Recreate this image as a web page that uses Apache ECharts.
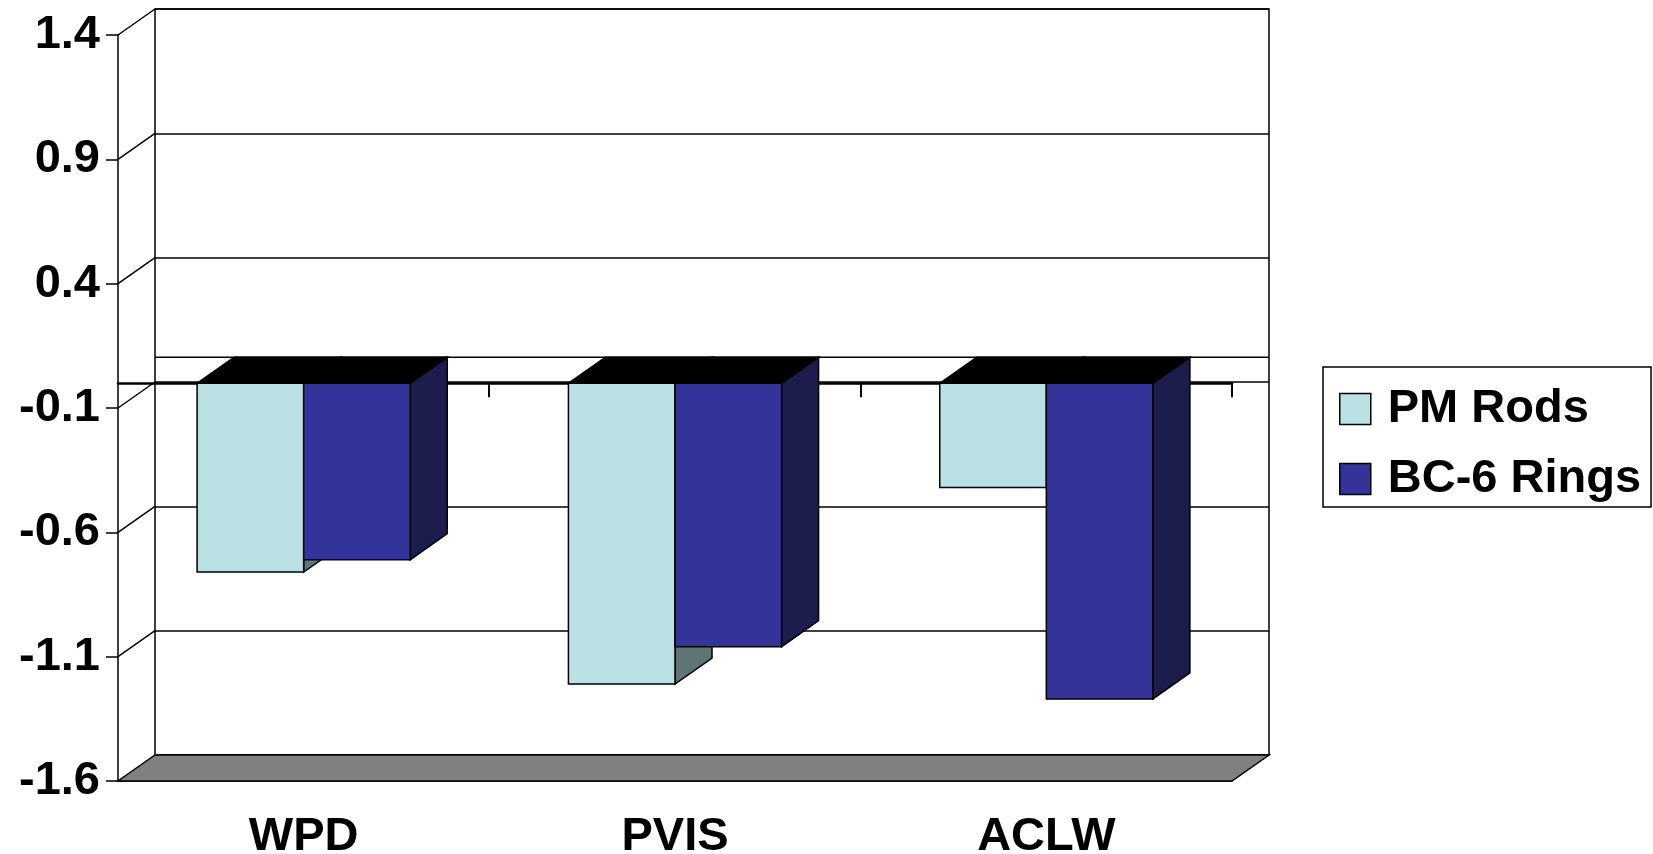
<!DOCTYPE html>
<html>
	<head>
		<meta charset="utf-8">
		<title>PM Rods vs BC-6 Rings</title>
		<style>
			html, body { margin: 0; padding: 0; background: #fff; }
			#main { width: 1653px; height: 854px; }
		</style>
	</head>
	<body>
		<div id="main"></div>

		<script src="https://cdn.jsdelivr.net/npm/echarts@6/dist/echarts.min.js"></script>
		<script type="text/javascript">
			// data
			var categories = ['WPD', 'PVIS', 'ACLW'];
			var pmRods = [-0.76, -1.21, -0.42];
			var bc6Rings = [-0.71, -1.06, -1.27];
			var yTicks = [-1.6, -1.1, -0.6, -0.1, 0.4, 0.9, 1.4];

			// layout of the fake 3d box
			var FRONT = { left: 118, top: 35, width: 1114, height: 746 };
			var DX = 37, DY = -26;
			var BAR_FRAC = 0.287;
			var FONT = 'Liberation Sans, Arial, sans-serif';
			var FONT_SIZE = 47;

			var yMin = yTicks[0];
			var yMax = yTicks[yTicks.length - 1];
			var yStep = Math.round((yTicks[1] - yTicks[0]) * 10) / 10;

			function barRenderer(slot, sideColor) {
				return function (params, api) {
					var ci = api.value(0);
					var v = api.value(1);
					var base = api.coord([ci, 0]);
					var end = api.coord([ci, v]);
					var w = api.size([1, 0])[0] * BAR_FRAC;
					var x0 = slot === 0 ? base[0] - w : base[0];
					var x1 = x0 + w;
					var yt = base[1], yb = end[1];
					var stroke = { stroke: '#000', lineWidth: 1.5 };
					return {
						type: 'group',
						children: [
							{
								type: 'polygon',
								shape: { points: [[x1, yt], [x1 + DX, yt + DY], [x1 + DX, yb + DY], [x1, yb]] },
								style: Object.assign({ fill: sideColor }, stroke)
							},
							{
								type: 'polygon',
								shape: { points: [[x0, yt], [x1, yt], [x1 + DX, yt + DY], [x0 + DX, yt + DY]] },
								style: Object.assign({ fill: '#000' }, stroke)
							},
							{
								type: 'rect',
								shape: { x: x0, y: yt, width: w, height: yb - yt },
								style: Object.assign({ fill: api.visual('color') }, stroke)
							}
						]
					};
				};
			}

			// floor, side wall lines, zero plane back edge and its ticks
			function frameRenderer(params, api) {
				var cs = params.coordSys;
				var left = cs.x, right = cs.x + cs.width;
				var band = api.size([1, 0])[0];
				var yb = api.coord([0, yMin])[1];
				var y0 = api.coord([0, 0])[1];
				var line = { stroke: '#000', lineWidth: 1.5 };
				var children = [
					{
						type: 'polygon',
						shape: { points: [[left, yb], [right, yb], [right + DX, yb + DY], [left + DX, yb + DY]] },
						style: { fill: '#808080', stroke: '#000', lineWidth: 1.5 }
					},
					{
						type: 'line',
						shape: { x1: left + DX, y1: y0 + DY, x2: right + DX, y2: y0 + DY },
						style: line
					}
				];
				for (var i = 1; i < yTicks.length; i++) {
					var y = api.coord([0, yTicks[i]])[1];
					children.push({
						type: 'line',
						shape: { x1: left, y1: y, x2: left + DX, y2: y + DY },
						style: line
					});
				}
				for (var k = 1; k <= categories.length; k++) {
					var tx = Math.round(left + k * band);
					children.push({
						type: 'line',
						shape: { x1: tx, y1: y0, x2: tx, y2: y0 + 14 },
						style: { stroke: '#000', lineWidth: 2 }
					});
				}
				return { type: 'group', children: children };
			}

			var myChart = echarts.init(document.getElementById('main'));
			var option = {
				backgroundColor: '#fff',
				animation: false,
				grid: [
					{
						left: FRONT.left, top: FRONT.top, width: FRONT.width, height: FRONT.height,
						outerBoundsMode: 'none', containLabel: false
					},
					{
						left: FRONT.left + DX, top: FRONT.top + DY, width: FRONT.width, height: FRONT.height,
						outerBoundsMode: 'none', containLabel: false,
						show: true, borderColor: '#000', borderWidth: 1.5
					}
				],
				xAxis: [
					{
						type: 'category', gridIndex: 0, data: categories, position: 'bottom',
						axisLine: { onZero: false, lineStyle: { color: '#000', width: 1.5 } },
						axisTick: { length: 14, lineStyle: { color: '#000', width: 1.5 } },
						axisLabel: { color: '#000', fontSize: FONT_SIZE, fontWeight: 'bold', fontFamily: FONT, margin: 33 }
					},
					{
						type: 'category', gridIndex: 0, data: categories, position: 'top',
						axisLine: { onZero: true, lineStyle: { color: '#000', width: 2.5 } },
						axisTick: { show: false },
						axisLabel: { show: false }
					},
					{
						type: 'category', gridIndex: 1, data: categories,
						axisLine: { show: false }, axisTick: { show: false }, axisLabel: { show: false }
					}
				],
				yAxis: [
					{
						type: 'value', gridIndex: 0, min: yMin, max: yMax, interval: yStep,
						axisLine: { show: true, lineStyle: { color: '#000', width: 1.5 } },
						axisTick: { show: true, length: 12, lineStyle: { color: '#000', width: 1.5 } },
						axisLabel: {
							color: '#000', fontSize: FONT_SIZE, fontWeight: 'bold', fontFamily: FONT, margin: 18,
							formatter: function (v) { return (Math.round(v * 10) / 10).toFixed(1); }
						},
						splitLine: { show: false }
					},
					{
						type: 'value', gridIndex: 1, min: yMin, max: yMax, interval: yStep,
						axisLine: { show: false }, axisTick: { show: false }, axisLabel: { show: false },
						splitLine: { show: true, lineStyle: { color: '#000', width: 1.5 } }
					}
				],
				legend: {
					data: ['PM Rods', 'BC-6 Rings'],
					orient: 'vertical',
					left: 1323, top: 367,
					padding: [17, 10, 3, 16],
					itemGap: 20,
					itemWidth: 31, itemHeight: 31,
					icon: 'rect',
					borderColor: '#000', borderWidth: 1.5,
					itemStyle: { borderColor: '#000', borderWidth: 1.5 },
					textStyle: { color: '#000', fontSize: FONT_SIZE, fontWeight: 'bold', fontFamily: FONT, lineHeight: 50, padding: [0, 0, 0, 12] }
				},
				series: [
					{
						name: 'frame', type: 'custom', xAxisIndex: 0, yAxisIndex: 0,
						z: 1, silent: true, clip: false,
						renderItem: frameRenderer,
						data: [[0, 0]]
					},
					{
						name: 'PM Rods', type: 'custom', xAxisIndex: 0, yAxisIndex: 0, clip: false,
						itemStyle: { color: '#BBE0E3' },
						renderItem: barRenderer(0, '#607676'),
						encode: { x: 0, y: 1 },
						data: categories.map(function (c, i) { return [i, pmRods[i]]; })
					},
					{
						name: 'BC-6 Rings', type: 'custom', xAxisIndex: 0, yAxisIndex: 0, clip: false,
						itemStyle: { color: '#333399' },
						renderItem: barRenderer(1, '#1C1C4D'),
						encode: { x: 0, y: 1 },
						data: categories.map(function (c, i) { return [i, bc6Rings[i]]; })
					}
				]
			};
			myChart.setOption(option);
		</script>
	</body>
</html>
